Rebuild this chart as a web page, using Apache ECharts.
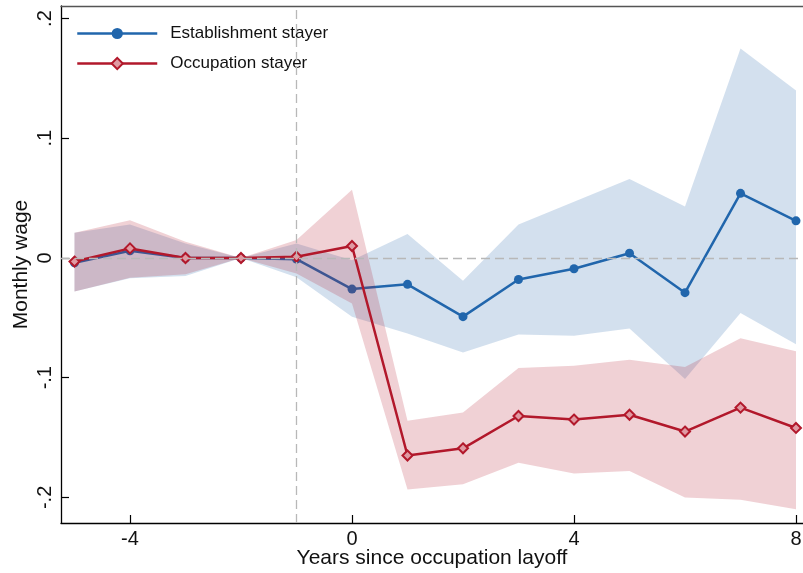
<!DOCTYPE html>
<html>
<head>
<meta charset="utf-8">
<script src="https://cdn.jsdelivr.net/npm/echarts@6/dist/echarts.min.js"></script>
<style>
html,body{margin:0;padding:0;background:#fff;}
#chart{width:803px;height:573px;}
</style>
</head>
<body>
<div id="chart"></div>
<script>
const years = [-5, -4, -3, -2, -1, 0, 1, 2, 3, 4, 5, 6, 7, 8];
const estCoef  = [-0.004, 0.006, 0, 0, -0.001, -0.026, -0.022, -0.049, -0.018, -0.009, 0.004, -0.029, 0.054, 0.031];
const estUpper = [0.021, 0.028, 0.012, 0, 0.012, -0.002, 0.020, -0.019, 0.028, 0.047, 0.066, 0.043, 0.175, 0.140];
const estLower = [-0.028, -0.017, -0.015, 0, -0.016, -0.049, -0.063, -0.079, -0.064, -0.065, -0.059, -0.101, -0.046, -0.072];
const occCoef  = [-0.003, 0.008, 0, 0, 0.001, 0.010, -0.165, -0.159, -0.132, -0.135, -0.131, -0.145, -0.125, -0.142];
const occUpper = [0.021, 0.0315, 0.0135, 0, 0.015, 0.057, -0.136, -0.129, -0.092, -0.090, -0.085, -0.091, -0.067, -0.078];
const occLower = [-0.028, -0.0165, -0.0135, 0, -0.013, -0.038, -0.1935, -0.189, -0.171, -0.180, -0.178, -0.200, -0.202, -0.210];
const xTicks = [-4, 0, 4, 8];
const yTicks = [-0.2, -0.1, 0, 0.1, 0.2];
const seriesNames = ['Establishment stayer', 'Occupation stayer'];

const BLUE = '#2166ac';
const RED = '#b2182b';

function pairs(arr) { return years.map((x, i) => [x, arr[i]]); }
function yFmt(v) {
  if (Math.abs(v) < 1e-9) return '0';
  const s = String(Math.abs(+v.toFixed(3))).replace(/^0/, '');
  return (v < 0 ? '-' : '') + s;
}

function bandSeries(name, lower, upper, color) {
  return {
    type: 'custom', name: name, silent: true, z: 1,
    data: years.map((x, i) => [x, lower[i], upper[i]]),
    encode: { x: 0, y: [1, 2] },
    renderItem: function (params, api) {
      if (params.dataIndex !== 0) return null;
      const pts = [];
      for (let i = 0; i < years.length; i++) pts.push(api.coord([years[i], upper[i]]));
      for (let i = years.length - 1; i >= 0; i--) pts.push(api.coord([years[i], lower[i]]));
      return {
        type: 'polygon',
        shape: { points: pts },
        style: { fill: color, opacity: 0.2 }
      };
    }
  };
}

const chart = echarts.init(document.getElementById('chart'), null, { renderer: 'canvas' });
chart.setOption({
  animation: false,
  backgroundColor: '#fff',
  textStyle: { fontFamily: 'Liberation Sans, Arial, sans-serif' },
  grid: { left: 61, right: 0, top: 6, bottom: 50, containLabel: false, outerBoundsMode: 'none' },
  legend: {
    data: seriesNames,
    orient: 'vertical',
    left: 71, top: 20,
    itemWidth: 80, itemHeight: 14, itemGap: 13,
    lineStyle: { width: 2.5 },
    textStyle: { fontSize: 17, color: '#111', padding: [0, 0, 0, 8] }
  },
  xAxis: [{
    type: 'value', min: -5.243, max: 8.126,
    name: 'Years since occupation layoff', nameLocation: 'middle', nameGap: 25, nameMoveOverlap: false,
    nameTextStyle: { fontSize: 21, color: '#111' },
    axisLine: { show: true, onZero: false, lineStyle: { color: '#000', width: 1.3 } },
    axisTick: { show: true, inside: true, length: 8, customValues: xTicks, lineStyle: { color: '#000', width: 1.2 } },
    axisLabel: { customValues: xTicks, fontSize: 20, color: '#111', margin: 6 },
    splitLine: { show: false }
  }, {
    type: 'value', position: 'top', min: -5.243, max: 8.126,
    axisLine: { show: true, onZero: false, lineStyle: { color: '#555', width: 1.3 } },
    axisTick: { show: false }, axisLabel: { show: false }, splitLine: { show: false }
  }],
  yAxis: {
    type: 'value', min: -0.2214, max: 0.2105,
    name: 'Monthly wage', nameLocation: 'middle', nameGap: 29, nameMoveOverlap: false,
    nameTextStyle: { fontSize: 21, color: '#111' },
    axisLine: { show: true, onZero: false, lineStyle: { color: '#000', width: 1.3 } },
    axisTick: { show: true, inside: true, length: 8, customValues: yTicks, lineStyle: { color: '#000', width: 1.2 } },
    axisLabel: { customValues: yTicks, rotate: 90, fontSize: 20, color: '#111', margin: 6, formatter: yFmt },
    splitLine: { show: false }
  },
  series: [
    bandSeries('est_band', estLower, estUpper, BLUE),
    {
      type: 'line', name: seriesNames[0], data: pairs(estCoef),
      symbol: 'circle', symbolSize: 9,
      lineStyle: { color: BLUE, width: 2.5 },
      itemStyle: { color: BLUE },
      z: 2,
      markLine: {
        silent: true, symbol: 'none', label: { show: false },
        lineStyle: { color: '#b8b8b8', type: [9, 5], width: 1.3 },
        data: [{ yAxis: 0 }, { xAxis: -1 }]
      }
    },
    Object.assign(bandSeries('occ_band', occLower, occUpper, RED), { z: 3 }),
    {
      type: 'line', name: seriesNames[1], data: pairs(occCoef),
      symbol: 'diamond', symbolSize: 10,
      lineStyle: { color: RED, width: 2.5 },
      itemStyle: { color: '#e09aa3', borderColor: RED, borderWidth: 2 },
      z: 4
    }
  ]
});
</script>
</body>
</html>
